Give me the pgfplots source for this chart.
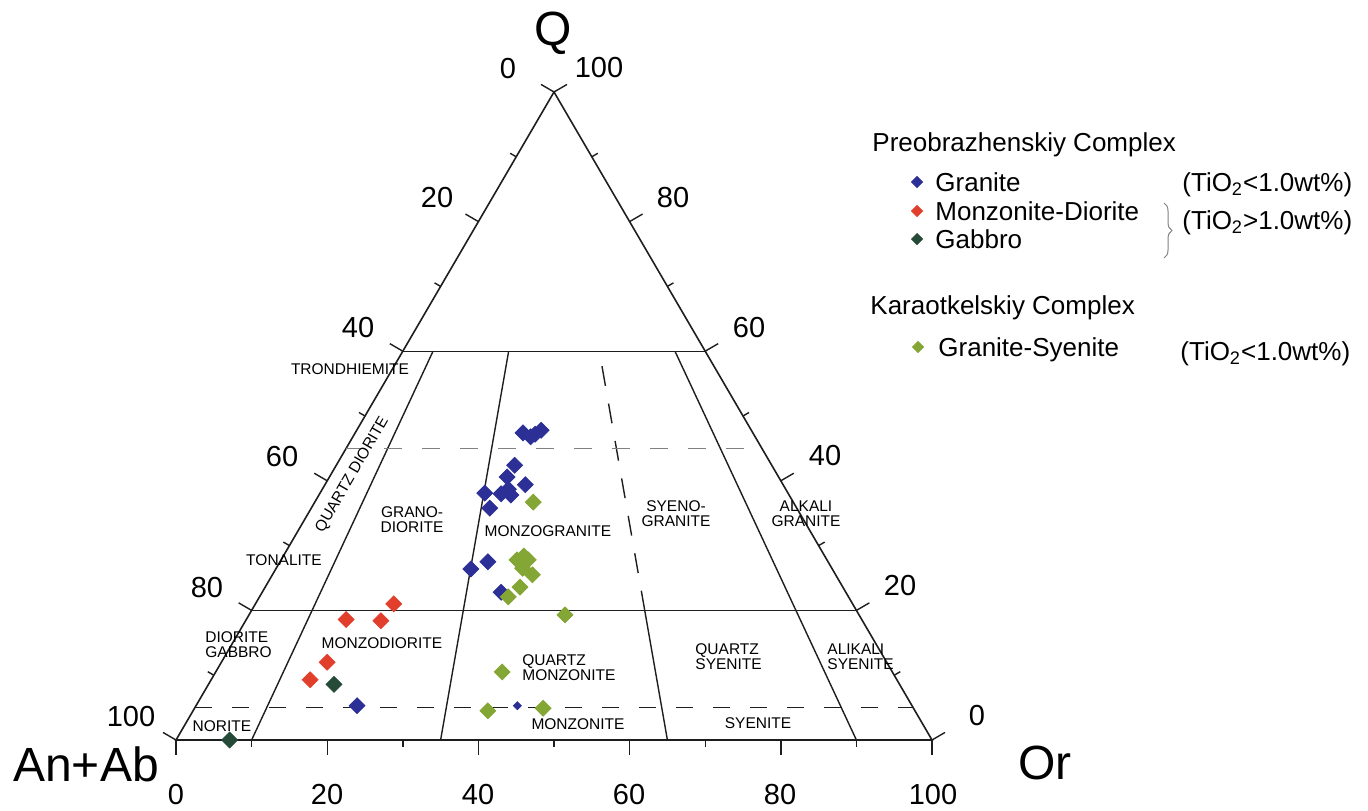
\documentclass[border=0pt]{standalone}
\usepackage{fontspec}
\setmainfont{Liberation Sans}
\usepackage{pgfplots}
\pgfplotsset{compat=1.18}
\usepackage{pgfplotstable}
\usetikzlibrary{decorations.pathreplacing}

\definecolor{gblue}{RGB}{43,47,150}
\definecolor{gred}{RGB}{226,62,44}
\definecolor{ggab}{RGB}{38,74,56}
\definecolor{ggreen}{RGB}{132,166,52}
\definecolor{lc}{RGB}{30,30,30}

% A = Or (%), Q = quartz (%); An+Ab = 100 - A - Q
\pgfplotstableread{
A Q
22.2 47.4
23.5 46.8
23.9 47.2
24.4 47.8
23.6 42.4
23.5 40.6
21.8 38.1
24.0 38.0
24.6 38.7
25.4 37.8
26.5 39.4
23.6 35.8
25.8 26.4
27.5 27.5
31.6 22.8
21.3 5.3
}\granite
\pgfplotstableread{
A Q
42.5 5.3
}\granitesmall
\pgfplotstableread{
A Q
18.3 21.0
13.2 18.6
17.9 18.4
14.0 12.0
13.1 9.3
}\monzodiorite
\pgfplotstableread{
A Q
16.6 8.6
7.1 0.0
}\gabbro
\pgfplotstableread{
A Q
28.9 36.7
31.2 27.8
32.7 27.8
31.8 28.4
32.6 26.5
34.4 25.5
33.7 23.6
32.9 22.1
41.8 19.3
37.9 10.5
39.0 4.5
46.1 4.9
}\granitesyenite

\newcommand\ticklf{\fontsize{14.5}{17}\selectfont}
\newcommand\fieldf{\fontsize{7.75}{7.6}\selectfont}
\newcommand\legf{\fontsize{13}{15}\selectfont}
\newcommand\bigf{\fontsize{24}{28}\selectfont}

\begin{document}
\begin{tikzpicture}
\begin{axis}[
  width=684pt, height=405pt, scale only axis,
  xmin=-23.28, xmax=157.67, ymin=-10.80, ymax=114.20,
  hide axis, clip=false,
  tern/.style={only marks, mark=square*, mark size=2.8pt, mark options={rotate=45, draw=none}},
]
% outer triangle and field boundaries (x = Or + Q/2, y = Q)
\addplot[lc, line width=0.8pt, line join=miter] coordinates {(0,0) (100,0) (50,100)} -- cycle;
\addplot[lc, line width=0.7pt] coordinates {(30,60) (70,60)};
\addplot[lc, line width=0.7pt] coordinates {(10,20) (90,20)};
\addplot[lc, line width=0.7pt] coordinates {(10,0) (34,60)};
\addplot[lc, line width=0.7pt] coordinates {(35,0) (44,60)};
\addplot[lc, line width=0.7pt] coordinates {(65,0) (62,20)};
\addplot[lc, line width=0.7pt] coordinates {(90,0) (66,60)};
\addplot[lc, line width=0.7pt, dash pattern=on 10pt off 9pt] coordinates {(62,20) (56,60)};
\addplot[lc, line width=0.7pt, dash pattern=on 8.5pt off 10pt] coordinates {(2.5,5) (97.5,5)};
\addplot[gray, line width=0.6pt, dash pattern=on 9pt off 10pt] coordinates {(22.5,45) (76,45)};
% data
\addplot[tern, color=gblue] table[x expr=\thisrow{A}+0.5*\thisrow{Q}, y=Q] {\granite};
\addplot[tern, color=gblue, mark size=1.4pt] table[x expr=\thisrow{A}+0.5*\thisrow{Q}, y=Q] {\granitesmall};
\addplot[tern, color=gred] table[x expr=\thisrow{A}+0.5*\thisrow{Q}, y=Q] {\monzodiorite};
\addplot[tern, color=ggab] table[x expr=\thisrow{A}+0.5*\thisrow{Q}, y=Q] {\gabbro};
\addplot[tern, color=ggreen] table[x expr=\thisrow{A}+0.5*\thisrow{Q}, y=Q] {\granitesyenite};
% legend swatches
\addplot[tern, color=gblue, mark size=1.95pt] coordinates {(98.02,86.11)};
\addplot[tern, color=gred, mark size=1.95pt] coordinates {(98.02,81.64)};
\addplot[tern, color=ggab, mark size=1.95pt] coordinates {(98.02,77.31)};
\addplot[tern, color=ggreen, mark size=1.95pt] coordinates {(98.15,60.65)};
\end{axis}

\begin{scope}[x=0.5pt,y=-0.5pt,shift={(0,405pt)}, every node/.style={inner sep=0pt}]
% ticks
\foreach \i in {0,...,10}{
  \pgfmathsetmacro\L{mod(\i,2)==0 ? 15 : 7}
  \draw[lc, line width=0.7pt] (176+37.8*\i, 740-64.8*\i) -- ++(-0.864*\L, -0.504*\L);
  \draw[lc, line width=0.7pt] (932-37.8*\i, 740-64.8*\i) -- ++(0.864*\L, -0.504*\L);
  \draw[lc, line width=0.7pt] (176+75.6*\i, 740) -- ++(0, \L);
}
% tick labels
\begin{scope}[every node/.style={inner sep=0pt, font=\ticklf, text height=10.4pt, text depth=0pt}]
\node at (508,68) {0};
\node at (437,197) {20};
\node at (358,327) {40};
\node at (282,456) {60};
\node at (207,587) {80};
\node at (131,716) {100};
\node at (599,67) {100};
\node at (673,197) {80};
\node at (749,327) {60};
\node at (825,455) {40};
\node at (900,585) {20};
\node at (977,715) {0};
\node at (176,794) {0};
\node at (327,794) {20};
\node at (478,794) {40};
\node at (629,794) {60};
\node at (780,794) {80};
\node at (933,794) {100};
\end{scope}
% apex labels
\node[font=\bigf, text height=17.2pt, text depth=0pt] at (553,28) {Q};
\node[font=\bigf, text height=17.2pt, text depth=0pt] at (86,764) {An+Ab};
\node[font=\bigf, text height=17.2pt, text depth=0pt] at (1045,762) {Or};
% field names
\begin{scope}[every node/.style={inner sep=0pt, font=\fieldf}]
\node[text height=5.55pt, text depth=0pt] at (350,369) {TRONDHIEMITE};
\node[text height=5.55pt, text depth=0pt, rotate=60] at (351,474) {QUARTZ DIORITE};
\node[text height=5.55pt, text depth=0pt] at (284,560) {TONALITE};
\node[align=center] at (412,520) {GRANO-\\DIORITE};
\node[text height=5.55pt, text depth=0pt] at (548,531) {MONZOGRANITE};
\node[align=center] at (676,514) {SYENO-\\GRANITE};
\node[align=center] at (806,514) {ALKALI\\GRANITE};
\node[align=left, anchor=west] at (205,645) {DIORITE\\GABBRO};
\node[text height=5.55pt, text depth=0pt] at (382,643) {MONZODIORITE};
\node[text height=5.55pt, text depth=0pt] at (222,726) {NORITE};
\node[align=left, anchor=west] at (522,668) {QUARTZ\\MONZONITE};
\node[text height=5.55pt, text depth=0pt] at (578,724) {MONZONITE};
\node[align=left, anchor=west] at (695,657) {QUARTZ\\SYENITE};
\node[align=left, anchor=west] at (827,657) {ALIKALI\\SYENITE};
\node[text height=5.55pt, text depth=0pt] at (758,723) {SYENITE};
\end{scope}
% legend text
\begin{scope}[every node/.style={inner sep=0pt, font=\legf, anchor=west, text height=9.3pt, text depth=0pt}]
\node at (872,142) {Preobrazhenskiy Complex};
\node at (935,182) {Granite};
\node at (935,211) {Monzonite-Diorite};
\node at (935,239) {Gabbro};
\node at (1182,182) {(TiO\textsubscript{2}<1.0wt\%)};
\node at (1182,220) {(TiO\textsubscript{2}>1.0wt\%)};
\node at (870,305) {Karaotkelskiy Complex};
\node at (938,347) {Granite-Syenite};
\node at (1180,351) {(TiO\textsubscript{2}<1.0wt\%)};
\end{scope}
\draw[gray, line width=0.5pt, decorate, decoration={brace, amplitude=4pt}] (1164,203) -- (1164,258);
\end{scope}
\pgfresetboundingbox
\path (0,0) rectangle (684pt,405pt);
\end{tikzpicture}
\end{document}
